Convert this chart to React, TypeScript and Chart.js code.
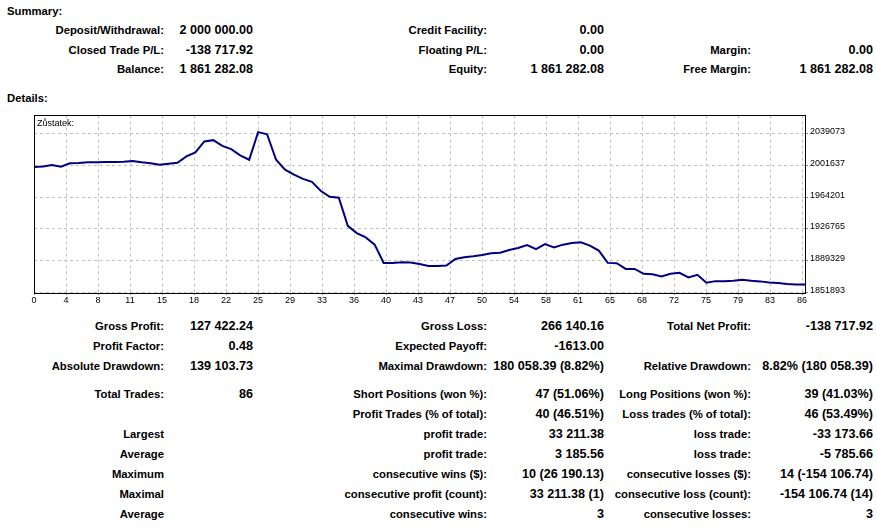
import { useEffect, useRef } from 'react';
import { Chart, registerables } from 'chart.js';

Chart.register(...registerables);

// ---- data ----
const BALANCE: number[] = [
  2000000, 2000400, 2002200, 2000300, 2004200, 2004600, 2005400, 2005400, 2005700, 2005700,
  2006100, 2006900, 2005400, 2004200, 2002600, 2003700, 2004900, 2012400, 2017100, 2030000,
  2031500, 2024800, 2020900, 2013600, 2008400, 2041000, 2038500, 2008400, 1996700, 1990900,
  1985800, 1982300, 1971500, 1964800, 1963600, 1930500, 1921900, 1916800, 1908300, 1886800,
  1886800, 1887600, 1887200, 1885600, 1883200, 1883200, 1883700, 1891400, 1893400, 1894600,
  1896100, 1898100, 1898700, 1902000, 1904300, 1907800, 1903100, 1909000, 1905100, 1908300,
  1910200, 1911000, 1907100, 1901300, 1886800, 1886400, 1879700, 1879700, 1873900, 1873300,
  1870800, 1873900, 1875100, 1869700, 1872700, 1863400, 1865300, 1865300, 1865700, 1866900,
  1865700, 1865000, 1863800, 1863000, 1861800, 1861300, 1861282.08,
];

const X_TICK_LABELS: string[] = [
  '0', '4', '8', '11', '15', '18', '22', '25', '29', '33', '36', '40', '43',
  '47', '50', '54', '58', '61', '65', '68', '72', '75', '79', '83', '86',
];
const X_TICK_STEP = 3.5694; // trades between vertical grid lines

const Y_TICKS: number[] = [1851893, 1889329, 1926765, 1964201, 2001637, 2039073];
const Y_MIN = 1851300;
const Y_MAX = 2060700;

const SERIES_LABEL = 'Zůstatek:';

const SUMMARY_ROWS: string[][] = [
  ['Deposit/Withdrawal:', '2 000 000.00', 'Credit Facility:', '0.00', '', ''],
  ['Closed Trade P/L:', '-138 717.92', 'Floating P/L:', '0.00', 'Margin:', '0.00'],
  ['Balance:', '1 861 282.08', 'Equity:', '1 861 282.08', 'Free Margin:', '1 861 282.08'],
];

const DETAIL_ROWS: string[][] = [
  ['Gross Profit:', '127 422.24', 'Gross Loss:', '266 140.16', 'Total Net Profit:', '-138 717.92'],
  ['Profit Factor:', '0.48', 'Expected Payoff:', '-1613.00', '', ''],
  ['Absolute Drawdown:', '139 103.73', 'Maximal Drawdown:', '180 058.39 (8.82%)', 'Relative Drawdown:', '8.82% (180 058.39)'],
  ['Total Trades:', '86', 'Short Positions (won %):', '47 (51.06%)', 'Long Positions (won %):', '39 (41.03%)'],
  ['', '', 'Profit Trades (% of total):', '40 (46.51%)', 'Loss trades (% of total):', '46 (53.49%)'],
  ['Largest', '', 'profit trade:', '33 211.38', 'loss trade:', '-33 173.66'],
  ['Average', '', 'profit trade:', '3 185.56', 'loss trade:', '-5 785.66'],
  ['Maximum', '', 'consecutive wins ($):', '10 (26 190.13)', 'consecutive losses ($):', '14 (-154 106.74)'],
  ['Maximal', '', 'consecutive profit (count):', '33 211.38 (1)', 'consecutive loss (count):', '-154 106.74 (14)'],
  ['Average', '', 'consecutive wins:', '3', 'consecutive losses:', '3'],
];

// ---- layout ----
const PAGE_W = 877;
const COL_RIGHT = [164, 253, 487, 604, 751, 873];
const SUMMARY_Y = [30, 49.5, 69];
const DETAIL_Y = [326, 346, 366, 394, 414, 434, 454, 474, 494, 514];
const FONT = '"Liberation Sans", Arial, sans-serif';
const LABEL_SIZE = 11.3;
const VALUE_SIZE = 12.6;

const frame = {
  id: 'frame',
  afterDraw(chart: any) {
    const { ctx, chartArea } = chart;
    ctx.save();
    ctx.strokeStyle = '#000';
    ctx.lineWidth = 1;
    ctx.setLineDash([]);
    ctx.strokeRect(
      Math.round(chartArea.left) + 0.5,
      Math.round(chartArea.top) + 0.5,
      Math.round(chartArea.right - chartArea.left),
      Math.round(chartArea.bottom - chartArea.top)
    );
    ctx.restore();
  },
};

function Row({ cells, y }: { cells: string[]; y: number }) {
  return (
    <>
      {cells.map((c, i) =>
        c ? (
          <div
            key={i}
            style={{
              position: 'absolute',
              right: PAGE_W - COL_RIGHT[i],
              top: y - 10,
              lineHeight: '20px',
              height: 20,
              whiteSpace: 'nowrap',
              fontWeight: 'bold',
              fontSize: i % 2 === 0 ? LABEL_SIZE : VALUE_SIZE,
            }}
          >
            {c}
          </div>
        ) : null
      )}
    </>
  );
}

export default function App() {
  const ref = useRef<HTMLCanvasElement>(null);

  useEffect(() => {
    const chart = new Chart(ref.current!, {
      type: 'line',
      data: {
        datasets: [
          {
            label: SERIES_LABEL,
            data: BALANCE.map((v, i) => ({ x: i, y: v })),
            borderColor: '#000080',
            borderWidth: 2,
            pointRadius: 0,
            tension: 0,
            fill: false,
          },
        ],
      },
      options: {
        responsive: false,
        animation: false,
        devicePixelRatio: 1,
        layout: { padding: { left: 34, top: 6, right: 0, bottom: 0 } },
        plugins: {
          legend: { display: false },
          tooltip: { enabled: false },
        },
        scales: {
          x: {
            type: 'linear',
            min: 0,
            max: BALANCE.length - 1,
            afterBuildTicks: (axis: any) => {
              axis.ticks = X_TICK_LABELS.map((_, k) => ({ value: k * X_TICK_STEP }));
            },
            afterFit: (axis: any) => {
              axis.height = 15;
            },
            grid: {
              color: '#c0c0c0',
              lineWidth: 1,
              tickLength: 2,
              tickColor: '#808080',
            },
            border: { display: false, dash: [3, 3] },
            ticks: {
              autoSkip: false,
              maxRotation: 0,
              padding: 0,
              color: '#000',
              font: { family: FONT, size: 9 },
              callback: (_v: any, index: number) => X_TICK_LABELS[index],
            },
          },
          y: {
            type: 'linear',
            position: 'right',
            min: Y_MIN,
            max: Y_MAX,
            afterBuildTicks: (axis: any) => {
              axis.ticks = Y_TICKS.map((v) => ({ value: v }));
            },
            afterFit: (axis: any) => {
              axis.width = 72;
            },
            grid: {
              color: '#c0c0c0',
              lineWidth: 1,
              tickLength: 3,
              tickColor: '#808080',
            },
            border: { display: false, dash: [3, 3] },
            ticks: {
              padding: 2,
              labelOffset: -2,
              color: '#000',
              font: { family: FONT, size: 9 },
              callback: (v: any) => String(v),
            },
          },
        },
      },
      plugins: [frame],
    } as any);
    return () => chart.destroy();
  }, []);

  return (
    <div
      style={{
        position: 'absolute',
        left: 0,
        top: 0,
        width: PAGE_W,
        height: 529,
        background: '#fff',
        color: '#000',
        fontFamily: FONT,
        overflow: 'hidden',
      }}
    >
      <div style={{ position: 'absolute', left: 7, top: 1, lineHeight: '20px', fontSize: LABEL_SIZE, fontWeight: 'bold' }}>
        Summary:
      </div>
      {SUMMARY_ROWS.map((r, i) => (
        <Row key={'s' + i} cells={r} y={SUMMARY_Y[i]} />
      ))}
      <div style={{ position: 'absolute', left: 7, top: 88, lineHeight: '20px', fontSize: LABEL_SIZE, fontWeight: 'bold' }}>
        Details:
      </div>
      <canvas
        ref={ref}
        width={877}
        height={200}
        style={{ position: 'absolute', left: 0, top: 108, width: 877, height: 200 }}
      />
      <div style={{ position: 'absolute', left: 37, top: 117, lineHeight: '12px', fontSize: 9 }}>
        {SERIES_LABEL}
      </div>
      {DETAIL_ROWS.map((r, i) => (
        <Row key={'d' + i} cells={r} y={DETAIL_Y[i]} />
      ))}
    </div>
  );
}
